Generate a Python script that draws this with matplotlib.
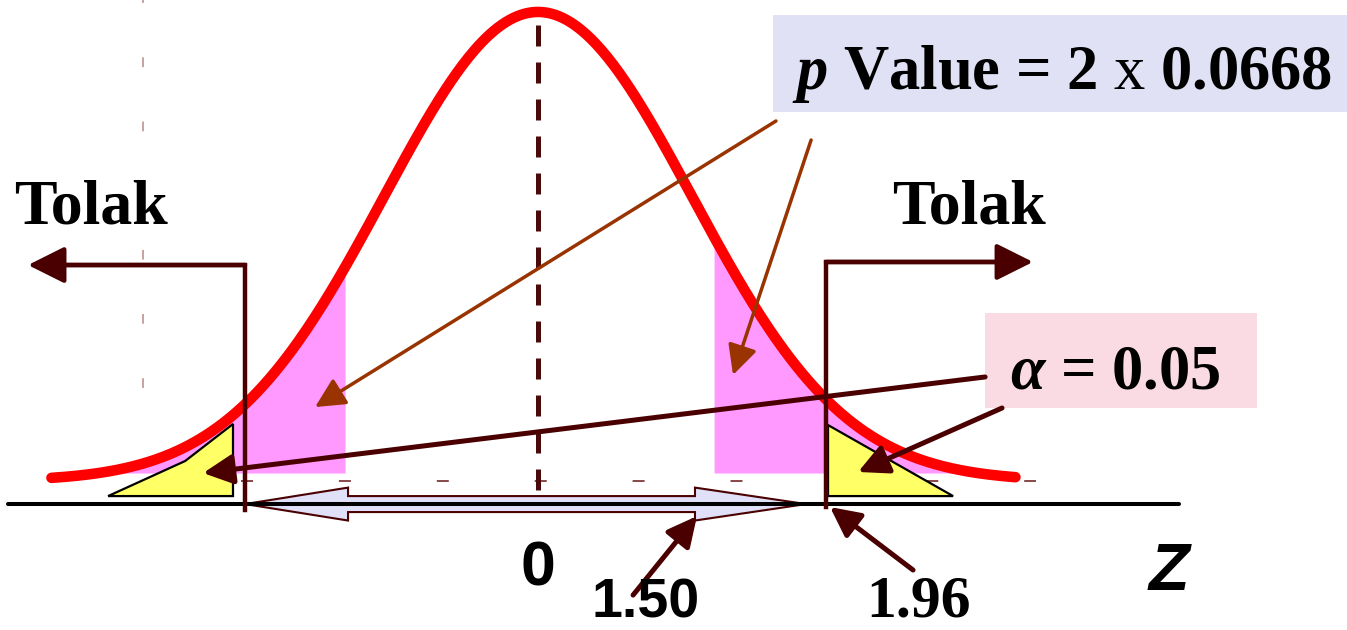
#!/usr/bin/env python3
"""Two-tailed z test sketch: p value vs alpha rejection regions."""

import matplotlib

matplotlib.use("Agg")
import matplotlib.pyplot as plt
import numpy as np
from matplotlib.patches import Polygon, Rectangle

# values shown on the chart
Z_STAT = 1.50
Z_CRIT = 1.96
P_ONE_TAIL = 0.0668
ALPHA = 0.05
REGION_LABELS = ["Tolak", "Tolak"]
CENTER_LABEL = "0"
AXIS_LABEL = "Z"

# drawn positions (z units, schematic as in the source picture)
CURVE_RANGE = (-3.16, 3.10)
SHADE_EDGES = (-1.25, 1.14)      # pink p-value tails start here
CRIT_DRAWN = (-1.903, 1.870)     # vertical "Tolak" lines
PINK_FLOOR = 0.0068

DARK = "#4A0000"
BROWN = "#993300"

plt.rcParams["mathtext.fontset"] = "custom"
plt.rcParams["mathtext.it"] = "Liberation Serif:italic:bold"
plt.rcParams["mathtext.rm"] = "Liberation Serif"
plt.rcParams["mathtext.bf"] = "Liberation Serif:bold"


def pdf(z):
    return np.exp(-0.5 * z**2) / np.sqrt(2 * np.pi)


def arrow(ax, tail, tip, color, lw, hl=0.9, hw=0.45, scale=20):
    ax.annotate(
        "",
        xy=tip,
        xytext=tail,
        arrowprops=dict(
            arrowstyle=f"-|>,head_length={hl},head_width={hw}",
            color=color,
            lw=lw,
            mutation_scale=scale,
            shrinkA=0,
            shrinkB=0,
        ),
        zorder=8,
    )


def main():
    fig = plt.figure(figsize=(13.47, 6.30), dpi=100)
    ax = fig.add_axes([0, 0, 1, 1])
    ax.set_xlim(-3.494, 5.253)
    ax.set_ylim(-0.1267, 0.4091)
    ax.axis("off")

    z = np.linspace(*CURVE_RANGE, 500)
    y = pdf(z)

    # p-value tails
    left = (z <= SHADE_EDGES[0]) & (y > PINK_FLOOR)
    right = (z >= SHADE_EDGES[1]) & (y > PINK_FLOOR)
    for m in (left, right):
        ax.fill_between(z[m], PINK_FLOOR, y[m], color="#FF99FF", lw=0, zorder=1)

    # faint guide line and axis dashes from the original graph
    ax.plot([-2.565, -2.565], [0.409, 0.0408], color="#C8A0A0", lw=1.4,
            ls=(3.5, (5, 28)), zorder=1)
    ax.plot([-1.929, 3.234], [0, 0], color="#8B4C4C", lw=1.44,
            ls=(0, (6, 42.95)), zorder=1)

    # alpha triangles
    tri_l = [(-2.792, -0.0128), (-2.292, 0.0170), (-1.981, 0.0485), (-1.981, -0.0128)]
    tri_r = [(1.883, 0.0476), (2.695, -0.0128), (1.883, -0.0128)]
    for pts in (tri_l, tri_r):
        ax.add_patch(Polygon(pts, closed=True, facecolor="#FFFF66",
                             edgecolor="black", lw=1.6, zorder=2))

    ax.plot(z, y, color="#FF0000", lw=7.6, solid_capstyle="round", zorder=3)

    # mean line
    ax.plot([0, 0], [0.3879, -0.0077], color="#4A0A0A", lw=3.6,
            ls=(0, (4.2, 3.2)), zorder=4)

    # double block arrow along the axis
    yc, sh, hh = -0.0196, 0.0068, 0.0140
    xl, xlb, xrb, xr = CRIT_DRAWN[0], -1.234, 1.019, 1.740
    pts = [(xl, yc), (xlb, yc + hh), (xlb, yc + sh), (xrb, yc + sh), (xrb, yc + hh),
           (xr, yc), (xrb, yc - hh), (xrb, yc - sh), (xlb, yc - sh), (xlb, yc - hh)]
    ax.add_patch(Polygon(pts, closed=True, facecolor="#E0E0F8",
                         edgecolor=DARK, lw=1.5, zorder=5))

    ax.plot([-3.442, 4.162], [-0.0196, -0.0196], color="black", lw=2.9,
            solid_capstyle="round", zorder=6)

    # rejection region brackets
    for xc, y0, y1, tip in ((CRIT_DRAWN[0], -0.0247, 0.1837, -3.312),
                            (CRIT_DRAWN[1], -0.0221, 0.1863, 3.214)):
        ax.plot([xc, xc, xc + 0.9 * (tip - xc)], [y0, y1, y1], color=DARK, lw=3.2,
                solid_joinstyle="miter", zorder=7)
        arrow(ax, (xc, y1), (tip, y1), DARK, 3.2, hl=1.5, hw=0.75, scale=15)

    # callout boxes
    ax.add_patch(Rectangle((1.526, 0.3139), 3.8, 0.0825, facecolor="#E1E1F5",
                           lw=0, zorder=6))
    ax.add_patch(Rectangle((2.903, 0.0621), 1.766, 0.0808, facecolor="#FADAE3",
                           lw=0, zorder=6))

    serif = dict(family="Liberation Serif", weight="bold",
                 ha="center", va="baseline", zorder=9)
    ax.text(3.403, 0.3334, rf"$p$ Value = 2 $\mathrm{{x}}$ {P_ONE_TAIL:.4f}",
            size=45, **serif)
    ax.text(3.747, 0.0791, rf"$\alpha$ = {ALPHA:.2f}", size=45, **serif)
    ax.text(-2.903, 0.2194, REGION_LABELS[0], size=46, **serif)
    ax.text(2.799, 0.2194, REGION_LABELS[1], size=46, **serif)

    # bottom labels sit on the lower edge of the canvas
    bottom = -0.1262
    ax.text(2.468, bottom, f"{Z_CRIT:.2f}", size=43, family="Liberation Serif",
            weight="bold", ha="center", va="bottom", zorder=9)

    sans = dict(family="Liberation Sans", weight="bold", ha="center", zorder=9)
    ax.text(0, -0.0885, CENTER_LABEL, size=45, va="baseline", **sans)
    ax.text(0.701, bottom, f"{Z_STAT:.2f}", size=40, va="bottom", **sans)
    ax.text(4.097, -0.0927, AXIS_LABEL, size=48, style="italic", va="baseline", **sans)

    # pointers
    arrow(ax, (1.545, 0.3062), (-1.448, 0.0629), BROWN, 2.5)
    arrow(ax, (1.773, 0.2900), (1.266, 0.0902), BROWN, 2.5)
    arrow(ax, (2.903, 0.0885), (-2.175, 0.0068), DARK, 3.6)
    arrow(ax, (3.013, 0.0621), (2.078, 0.0077), DARK, 3.6)
    arrow(ax, (0.617, -0.0970), (1.032, -0.0298), DARK, 3.6)
    arrow(ax, (2.435, -0.0757), (1.896, -0.0221), DARK, 3.6)

    fig.savefig("out.png", dpi=100)
    plt.close(fig)


if __name__ == "__main__":
    main()
